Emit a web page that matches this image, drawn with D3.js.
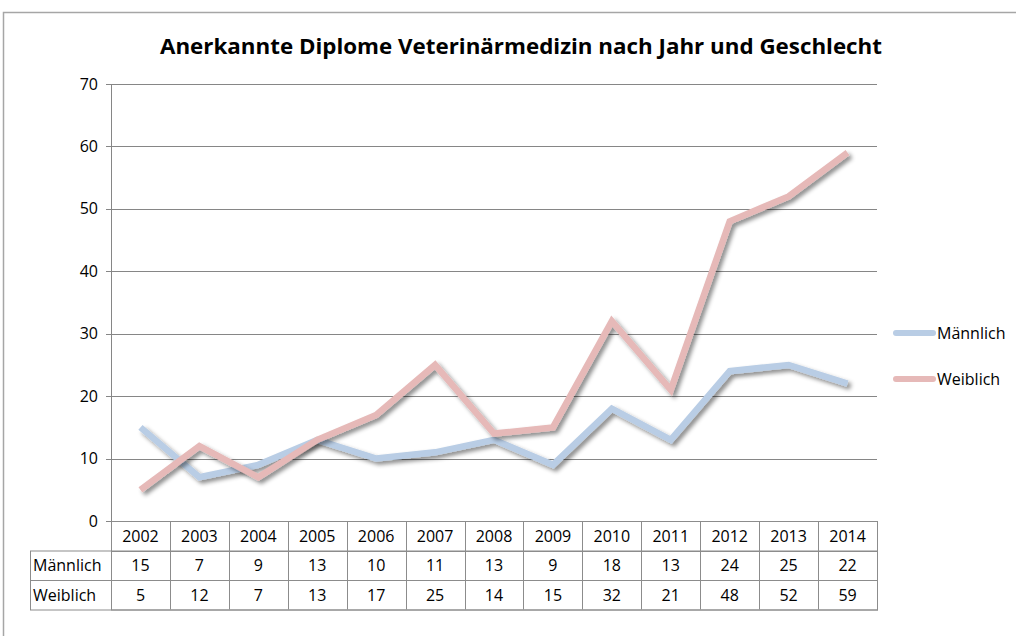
<!DOCTYPE html>
<html>
<head>
<meta charset="utf-8">
<script src="https://cdn.jsdelivr.net/npm/d3@7"></script>
<style>
  body { margin: 0; background: #fff; overflow: hidden; }
  svg { display: block; }
  svg text { font-family: "Open Sans", "Liberation Sans", sans-serif; fill: #000; }
</style>
</head>
<body>
<svg id="chart"></svg>
<script>
// chart data
const years = ["2002", "2003", "2004", "2005", "2006", "2007", "2008", "2009", "2010", "2011", "2012", "2013", "2014"];
const maennlich = [15, 7, 9, 13, 10, 11, 13, 9, 18, 13, 24, 25, 22];
const weiblich = [5, 12, 7, 13, 17, 25, 14, 15, 32, 21, 48, 52, 59];
const seriesNames = ["Männlich", "Weiblich"];
const seriesColors = ["#b9cde5", "#e6b9b8"];
const yTicks = [0, 10, 20, 30, 40, 50, 60, 70];
const title = "Anerkannte Diplome Veterinärmedizin nach Jahr und Geschlecht";

const width = 1016, height = 636;
const plotLeft = 111, plotRight = 877, plotTop = 84, plotBottom = 521;
const rowH = 29.5; // data table row height
const tableLeft = 30;
const fs = "16px";

const svg = d3.select("#chart").attr("width", width).attr("height", height);

// soft drop shadow for the lines
const defs = svg.append("defs");
const f = defs.append("filter").attr("id", "shadow")
  .attr("x", "-10%").attr("y", "-10%").attr("width", "120%").attr("height", "130%");
f.append("feDropShadow").attr("dx", 3).attr("dy", 3).attr("stdDeviation", 2)
  .attr("flood-color", "#000").attr("flood-opacity", 0.45);

// outer chart border
svg.append("rect")
  .attr("x", 3.5).attr("y", 12.5).attr("width", 1030).attr("height", 640)
  .attr("fill", "none").attr("stroke", "#a6a6a6").attr("stroke-width", 1.5);

// title
svg.append("text")
  .attr("x", 521).attr("y", 54)
  .attr("text-anchor", "middle")
  .attr("font-size", "22px").attr("font-weight", "bold")
  .attr("textLength", 722).attr("lengthAdjust", "spacingAndGlyphs")
  .text(title);

const x = d3.scaleBand().domain(years).range([plotLeft, plotRight]);
const y = d3.scaleLinear().domain([0, 70]).range([plotBottom, plotTop]);

// gridlines
svg.append("g").selectAll("line").data(yTicks).join("line")
  .attr("x1", plotLeft - 5).attr("x2", plotRight)
  .attr("y1", d => Math.round(y(d)) + 0.5).attr("y2", d => Math.round(y(d)) + 0.5)
  .attr("stroke", "#868686").attr("stroke-width", 1);

// y axis line
svg.append("line")
  .attr("x1", plotLeft + 0.5).attr("x2", plotLeft + 0.5)
  .attr("y1", plotTop).attr("y2", plotBottom)
  .attr("stroke", "#868686");

// y labels
svg.append("g").selectAll("text").data(yTicks).join("text")
  .attr("x", 98).attr("y", d => y(d) + 5.5)
  .attr("text-anchor", "end").attr("font-size", fs)
  .text(d => d);

// lines
const series = [maennlich, weiblich];
const line = d3.line()
  .x((d, i) => x(years[i]) + x.bandwidth() / 2)
  .y(d => y(d));

series.forEach((s, k) => {
  svg.append("path")
    .datum(s)
    .attr("d", line)
    .attr("fill", "none")
    .attr("stroke", seriesColors[k])
    .attr("stroke-width", 6.5)
    .attr("stroke-linejoin", "miter")
    .attr("filter", "url(#shadow)");
});

// data table
const tbl = svg.append("g");
const gridColor = "#8c8c8c";
tbl.append("rect")
  .attr("x", plotLeft + 0.5).attr("y", plotBottom + 0.5)
  .attr("width", plotRight - plotLeft).attr("height", rowH * 3)
  .attr("fill", "none").attr("stroke", gridColor);
tbl.append("rect")
  .attr("x", tableLeft + 0.5).attr("y", plotBottom + rowH + 0.5)
  .attr("width", plotRight - tableLeft).attr("height", rowH * 2)
  .attr("fill", "none").attr("stroke", gridColor);
tbl.selectAll(".vline").data(years.slice(1)).join("line")
  .attr("x1", d => Math.round(x(d)) + 0.5).attr("x2", d => Math.round(x(d)) + 0.5)
  .attr("y1", plotBottom).attr("y2", plotBottom + rowH * 3)
  .attr("stroke", gridColor);
[1, 2].forEach(r => {
  tbl.append("line")
    .attr("x1", r === 1 ? plotLeft : tableLeft).attr("x2", plotRight)
    .attr("y1", Math.round(plotBottom + rowH * r) + 0.5).attr("y2", Math.round(plotBottom + rowH * r) + 0.5)
    .attr("stroke", gridColor);
});

tbl.selectAll(".yr").data(years).join("text")
  .attr("x", d => x(d) + x.bandwidth() / 2).attr("y", plotBottom + rowH / 2 + 6)
  .attr("text-anchor", "middle").attr("font-size", fs)
  .text(d => d);

series.forEach((s, k) => {
  const rowY = plotBottom + rowH * (k + 1) + rowH / 2 + 6;
  tbl.append("text")
    .attr("x", tableLeft + 3).attr("y", rowY)
    .attr("font-size", fs).text(seriesNames[k]);
  tbl.selectAll(".v" + k).data(s).join("text")
    .attr("x", (d, i) => x(years[i]) + x.bandwidth() / 2).attr("y", rowY)
    .attr("text-anchor", "middle").attr("font-size", fs)
    .text(d => d);
});

// legend
const legend = svg.append("g");
seriesNames.forEach((name, k) => {
  const ly = 333 + k * 46;
  legend.append("line")
    .attr("x1", 896).attr("x2", 933).attr("y1", ly).attr("y2", ly)
    .attr("stroke", seriesColors[k]).attr("stroke-width", 6)
    .attr("stroke-linecap", "round");
  legend.append("text")
    .attr("x", 937).attr("y", ly + 5.5)
    .attr("font-size", fs).text(name);
});
</script>
</body>
</html>
